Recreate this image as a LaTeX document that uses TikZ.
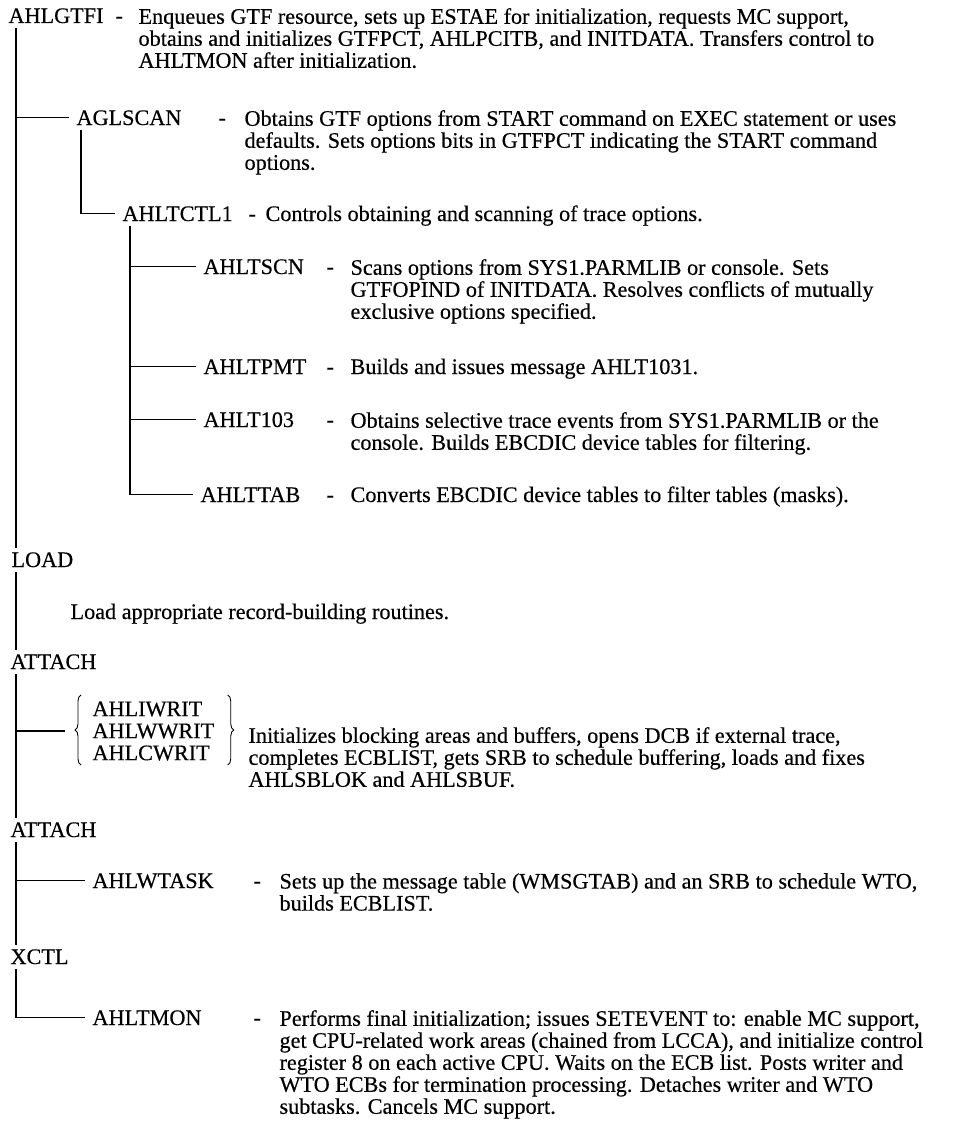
\documentclass[tikz,border=0pt]{standalone}
\usepackage{fontspec}
\setmainfont[FakeBold=0.4]{Liberation Serif}
\usepackage{tikz}
\usetikzlibrary{positioning, decorations.pathreplacing}

\begin{document}
\begin{tikzpicture}[
    x=1pt, y=-1pt, line width=1.1pt,
    every node/.style={inner sep=0pt, anchor=base west,
      font=\fontsize{22.2}{22}\selectfont},
    dsc/.style={align=left, anchor=north west, yshift=15.4pt,
      execute at begin node=\strut},
    trnk/.style={shorten <=4pt, shorten >=4pt},
    brnch/.style={shorten <=4pt, shorten >=7pt},
    brce/.style={decorate, decoration={brace, amplitude=6pt}, line width=0.9pt}
  ]
  \useasboundingbox (0,0) rectangle (967,1135);

  % Initialization
  \node (gtfi) at (8,23) {AHLGTFI};
  \node (gtfi-m) at (115,23) {-};
  \node[dsc] (gtfi-d) at (138,23) {Enqueues GTF resource, sets up ESTAE for initialization, requests MC support,\\
    obtains and initializes GTFPCT, AHLPCITB, and INITDATA.  Transfers control to\\
    AHLTMON after initialization.};

  \node (scan) at (76,125) {AGLSCAN};
  \node (scan-m) at (218,125) {-};
  \node[dsc] (scan-d) at (244,125) {Obtains GTF options from START command on EXEC statement or uses\\
    defaults.  Sets options bits in GTFPCT indicating the START command\\
    options.};

  \node (ctl) at (122,221) {AHLTCTL1};
  \node (ctl-m) at (248,221) {-};
  \node (ctl-d) at (265,221) {Controls obtaining and scanning of trace options.};

  % Trace options
  \node (tscn) at (203,274) {AHLTSCN};
  \node (tscn-m) at (326,274) {-};
  \node[dsc] (tscn-d) at (350,274) {Scans options from SYS1.PARMLIB or console.  Sets\\
    GTFOPIND of INITDATA.  Resolves conflicts of mutually\\
    exclusive options specified.};

  \node (pmt) at (203,374) {AHLTPMT};
  \node (pmt-m) at (326,374) {-};
  \node (pmt-d) at (350,374) {Builds and issues message AHLT1031.};

  \node (t103) at (203,427) {AHLT103};
  \node (t103-m) at (326,427) {-};
  \node[dsc] (t103-d) at (350,427) {Obtains selective trace events from SYS1.PARMLIB or the\\
    console.  Builds EBCDIC device tables for filtering.};

  \node (ttab) at (200,502) {AHLTTAB};
  \node (ttab-m) at (326,502) {-};
  \node (ttab-d) at (350,502) {Converts EBCDIC device tables to filter tables (masks).};

  % Load
  \node (load) at (11,567) {LOAD};
  \node (load-d) at (70,619) {Load appropriate record-building routines.};

  % Writers
  \node (att1) at (10,669) {ATTACH};
  \node[anchor=west, align=left] (brc) at (92,731) {AHLIWRIT\\AHLWWRIT\\AHLCWRIT};
  \draw[brce] ([xshift=-11pt, yshift=-4pt]brc.south west) -- ([xshift=-11pt, yshift=6pt]brc.north west);
  \draw[brce] ([xshift=13pt, yshift=6pt]brc.north east) -- ([xshift=13pt, yshift=-4pt]brc.south east);
  \node[dsc] (brc-d) at (248,742) {Initializes blocking areas and buffers, opens DCB if external trace,\\
    completes ECBLIST, gets SRB to schedule buffering, loads and fixes\\
    AHLSBLOK and AHLSBUF.};

  % WTO task
  \node (att2) at (10,837) {ATTACH};
  \node (wtask) at (92,888) {AHLWTASK};
  \node (wtask-m) at (253,888) {-};
  \node[dsc] (wtask-d) at (279,888) {Sets up the message table (WMSGTAB) and an SRB to schedule WTO,\\
    builds ECBLIST.};

  % Monitor
  \node (xctl) at (10,964) {XCTL};
  \node (tmon) at (92,1025) {AHLTMON};
  \node (tmon-m) at (253,1025) {-};
  \node[dsc] (tmon-d) at (279,1025) {Performs final initialization; issues SETEVENT to:  enable MC support,\\
    get CPU-related work areas (chained from LCCA), and initialize control\\
    register 8 on each active CPU.  Waits on the ECB list.  Posts writer and\\
    WTO ECBs for termination processing.  Detaches writer and WTO\\
    subtasks.  Cancels MC support.};

  % Tree lines
  \draw[trnk] ([xshift=8pt]gtfi.south west) -- ([xshift=5pt]load.north west);
  \draw[brnch] ([xshift=8pt]gtfi.south west) |- (scan.west);
  \draw[brnch] ([xshift=5pt]scan.south west) |- (ctl.west);
  \foreach \n in {tscn, pmt, t103, ttab}
    \draw[brnch] ([xshift=8pt]ctl.south west) |- (\n.west);
  \draw[trnk] ([xshift=5pt]load.south west) -- ([xshift=6pt]att1.north west);
  \draw[trnk] ([xshift=6pt]att1.south west) -- ([xshift=6pt]att2.north west);
  \draw[shorten <=4pt, shorten >=27pt] ([xshift=6pt]att1.south west) |- (brc.west);
  \draw[trnk] ([xshift=6pt]att2.south west) -- ([xshift=6pt]xctl.north west);
  \draw[brnch] ([xshift=6pt]att2.south west) |- (wtask.west);
  \draw[brnch] ([xshift=6pt]xctl.south west) |- (tmon.west);
\end{tikzpicture}
\end{document}
